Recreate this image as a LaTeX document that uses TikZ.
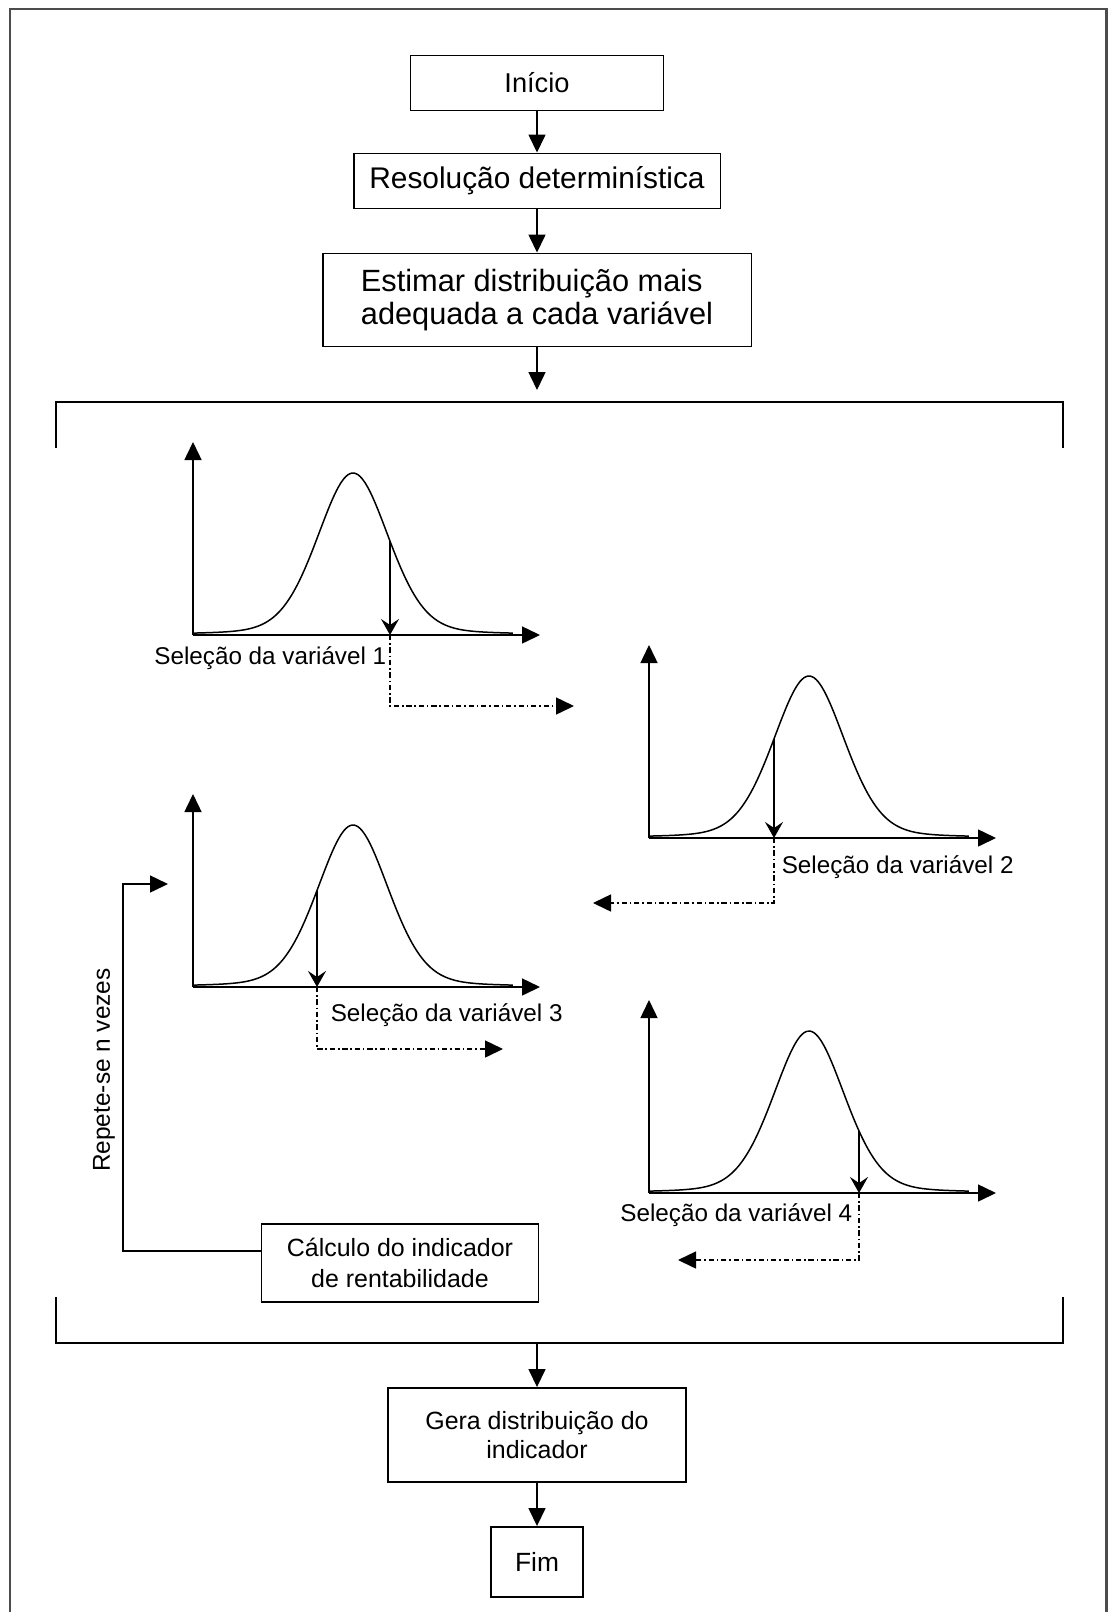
\documentclass[tikz,border=0pt]{standalone}
\usepackage{fontspec}
\setmainfont{Liberation Sans}
\usetikzlibrary{arrows.meta}
\begin{document}
\begin{tikzpicture}[x=0.02cm, y=-0.02cm, line width=0.85pt,
  >={Triangle[length=0.36cm,width=0.34cm]},
  box/.style={draw, rectangle, inner sep=0pt, line width=1.1pt},
  sel/.style={inner sep=0pt, font=\fontsize{13.8}{16}\selectfont},
  pick/.style={-{Stealth[length=0.32cm,width=0.36cm,inset=0.12cm]}},
  carry/.style={->, dash pattern=on 3pt off 1.6pt on 0.9pt off 1.6pt}]
\useasboundingbox (0,0) rectangle (1109,1612);
\draw[gray!60!black, line width=1.7pt] (10,1612) -- (10,9) -- (1106,9) -- (1106,1612);
\node[box, minimum width=5.06cm, minimum height=1.1cm, font=\fontsize{15.5}{18}\selectfont] (ini) at (537,83) {Início};
\node[box, minimum width=7.34cm, minimum height=1.1cm, font=\fontsize{17}{20}\selectfont] (res) at (537,181) {Resolução determinística};
\node[box, minimum width=8.58cm, minimum height=1.86cm, align=left, font=\fontsize{17.5}{18.8}\selectfont] (est) at (537,300) {Estimar distribuição mais\\adequada a cada variável};
\node[box, minimum width=5.54cm, minimum height=1.56cm, align=center, font=\fontsize{14.2}{18}\selectfont] (calc) at (400,1263) {Cálculo do indicador\\de rentabilidade};
\node[box, minimum width=5.96cm, minimum height=1.88cm, align=center, font=\fontsize{14.2}{16.4}\selectfont] (gera) at (537,1435) {Gera distribuição do\\indicador};
\node[box, minimum width=1.84cm, minimum height=1.4cm, font=\fontsize{15}{18}\selectfont] (fim) at (537,1562) {Fim};
\coordinate (top) at (537,390);
\coordinate (bot) at (537,1343);
\draw[->] (ini) -- (res);
\draw[->] (res) -- (est);
\draw[->] (est) -- (top);
\draw[->] (bot) -- (gera);
\draw[->] (gera) -- (fim);
\draw (56,448) -- (56,402) -- (1063,402) -- (1063,448);
\draw (56,1297) -- (56,1343) -- (1063,1343) -- (1063,1297);
\foreach \gx/\gy/\sx/\n in {193/635/390/1, 649/838/774/2, 193/987/317/3, 649/1193/859/4} {
  \draw[->] (\gx,\gy) -- ++(347,0);
  \draw[->] (\gx,\gy) -- ++(0,-193);
  \draw plot[domain=-4.44:4.44, samples=90, smooth] ({\gx+160+36*(\x)}, {\gy-162*(0.8*exp(-(\x)*(\x)/2)+0.2/(1+0.81*(\x)*(\x)))});
  \pgfmathsetmacro\su{(\sx-\gx-160)/36}
  \pgfmathsetmacro\sy{\gy-162*(0.8*exp(-(\su)*(\su)/2)+0.2/(1+0.81*(\su)*(\su)))}
  \draw[pick] (\sx,\sy) -- (\sx,\gy);
  \coordinate (p\n) at (\sx,\gy);
}
\node[sel, anchor=east] (lab1) at (387,658) {Seleção da variável 1};
\node[sel, anchor=west] (lab2) at (781,867) {Seleção da variável 2};
\node[sel, anchor=west] (lab3) at (330,1015) {Seleção da variável 3};
\node[sel, anchor=east] (lab4) at (853,1215) {Seleção da variável 4};
\coordinate (c1) at (574,706);
\coordinate (c2) at (593,903);
\coordinate (c3) at (503,1049);
\coordinate (c4) at (678,1260);
\draw[carry] (p1) |- (c1);
\draw[carry] (p2) |- (c2);
\draw[carry] (p3) |- (c3);
\draw[carry] (p4) |- (c4);
\coordinate (back) at (168,884);
\draw[->] ([yshift=0.24cm]calc.west) -| (123,884) -- (back);
\node[rotate=90, font=\fontsize{13.9}{16}\selectfont] (rep) at (104,1070) {Repete-se n vezes};
\end{tikzpicture}
\end{document}
